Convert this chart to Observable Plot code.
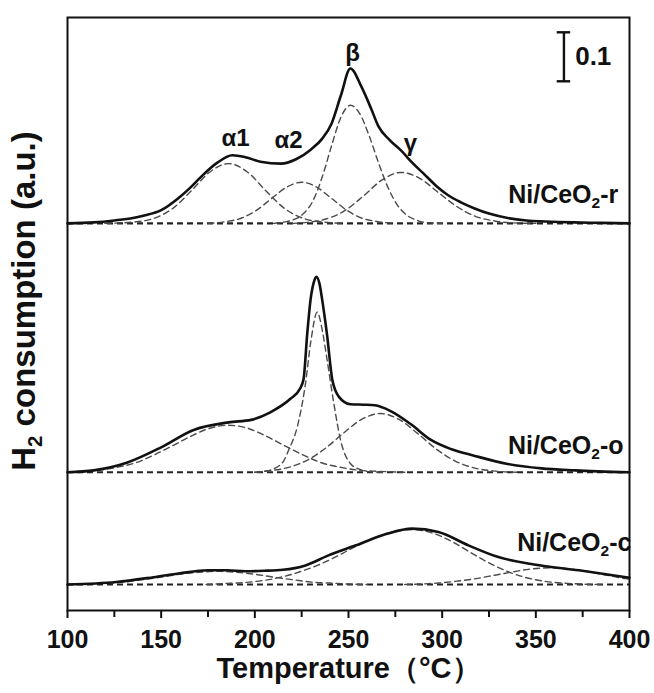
<!DOCTYPE html>
<html>
<head>
<meta charset="utf-8">
<script src="https://cdn.jsdelivr.net/npm/d3@7"></script>
<script src="https://cdn.jsdelivr.net/npm/@observablehq/plot@0.6"></script>
<style>
  html, body { margin: 0; padding: 0; background: #fff; }
</style>
</head>
<body>
<div id="chart"></div>
<script>
// ---------------- data ----------------
const majorTicks = [100, 150, 200, 250, 300, 350, 400];
const minorTicks = [125, 175, 225, 275, 325, 375];

// Ni/CeO2-r : total profile
const rT = [100,114,125,135,141,150,159,165,171,180,188,195,203,214,222,230,236,241,246,251,257,262,266,272,278,284,290,297,303,310,317,325,335,345,355,370,385,400];
const rV = [0,0.002,0.006,0.011,0.016,0.027,0.051,0.071,0.094,0.124,0.139,0.135,0.126,0.122,0.131,0.151,0.173,0.204,0.262,0.316,0.278,0.235,0.198,0.170,0.149,0.124,0.102,0.076,0.058,0.043,0.031,0.020,0.011,0.006,0.004,0.002,0.001,0];
// Ni/CeO2-r : fitted components
const rAlpha1 = [[120,0],[128,0.001],[136,0.003],[146,0.010],[156,0.030],[166,0.066],[176,0.105],[186,0.122],[196,0.105],[206,0.066],[216,0.030],[226,0.010],[236,0.003],[246,0]];
const rAlpha2 = [[175,0],[185,0.004],[193,0.011],[201,0.027],[209,0.051],[217,0.074],[225,0.084],[233,0.074],[241,0.051],[249,0.027],[257,0.011],[265,0.004],[275,0]];
const rBeta   = [[210,0],[216,0.003],[221,0.008],[226,0.020],[231,0.046],[236,0.095],[241,0.159],[246,0.217],[251,0.241],[256,0.224],[261,0.179],[266,0.124],[271,0.074],[276,0.038],[281,0.017],[286,0.007],[291,0.002],[300,0]];
const rGamma  = [[220,0],[228,0.002],[238,0.009],[248,0.026],[258,0.056],[268,0.089],[278,0.104],[288,0.092],[298,0.063],[308,0.034],[318,0.014],[328,0.005],[338,0.001],[350,0]];

// Ni/CeO2-o : total profile
const oT = [100,114,132,150,167,186,198,208,219,224,226,228,229.7,231.5,232.8,234.5,236,238.6,241.3,244.9,251,258,264,273,283,294,305,317,335,353,371,400];
const oV = [0,0.004,0.020,0.051,0.086,0.102,0.107,0.122,0.150,0.170,0.190,0.284,0.351,0.388,0.399,0.385,0.351,0.279,0.190,0.154,0.139,0.138,0.137,0.124,0.099,0.066,0.047,0.034,0.017,0.008,0.004,0];
// Ni/CeO2-o : fitted components
const oBroad = [[100,0.001],[116,0.004],[126,0.010],[136,0.019],[146,0.035],[156,0.054],[166,0.074],[176,0.090],[186,0.096],[196,0.090],[206,0.074],[216,0.054],[226,0.035],[236,0.019],[246,0.010],[256,0.004],[266,0.002],[280,0]];
const oSharp = [[200,0],[205,0.002],[210,0.007],[215.5,0.024],[218,0.045],[222.6,0.092],[227,0.180],[230,0.270],[233.3,0.327],[236,0.290],[238.6,0.229],[242.2,0.140],[245.8,0.065],[251,0.018],[256,0.006],[262,0.001],[270,0]];
const oHigh  = [[200,0],[207,0.003],[217,0.009],[227,0.023],[237,0.047],[247,0.079],[257,0.108],[267,0.120],[277,0.108],[287,0.079],[297,0.047],[307,0.023],[317,0.009],[327,0.003],[340,0]];

// Ni/CeO2-c : total profile
const cT = [100,126,146,160,175,185,195,205,215,227,239,254,270,284,298,314,330,349,373,400];
const cV = [0,0.005,0.015,0.023,0.029,0.029,0.027,0.028,0.030,0.039,0.059,0.080,0.103,0.114,0.107,0.080,0.056,0.041,0.029,0.014];
// Ni/CeO2-c : fitted components
const cLow  = [[100,0],[110,0.001],[120,0.003],[130,0.005],[140,0.010],[150,0.015],[160,0.021],[170,0.025],[180,0.027],[190,0.025],[200,0.021],[210,0.015],[220,0.010],[230,0.005],[240,0.003],[250,0.001],[260,0]];
const cMain = [[174,0],[184,0.002],[194,0.004],[204,0.008],[214,0.015],[224,0.026],[234,0.040],[244,0.058],[254,0.078],[264,0.095],[274,0.108],[284,0.112],[294,0.106],[304,0.090],[314,0.068],[324,0.046],[334,0.028],[344,0.015],[354,0.007],[364,0.003],[374,0.001],[385,0]];
const cHigh = [[280,0],[288,0.001],[298,0.003],[308,0.007],[318,0.012],[328,0.019],[338,0.026],[348,0.032],[358,0.034],[368,0.032],[378,0.026],[388,0.019],[398,0.012],[400,0.011]];

const sampleNames = ["Ni/CeO2-r", "Ni/CeO2-o", "Ni/CeO2-c"];
const peakNames = ["α1", "α2", "β", "γ"];
const peakAt = [189.7, 218, 252.2, 283.1];
const scaleBarValue = 0.1;

// ---------------- layout ----------------
const W = 654, H = 693;
const mL = 67, mR = 25, mT = 17, mB = 83;
const pxPerUnit = 490;                      // 0.1 a.u. ≈ 49 px
const yMax = (H - mT - mB) / pxPerUnit;
const offR = 0.790, offO = 0.282, offC = 0.053;  // vertical stacking offsets
const FONT = "'Liberation Sans', Arial, Helvetica, sans-serif";

const rows = (T, V, off) => T.map((t, i) => ({T: t, y: V[i] + off}));
const comp = (P, off) => P.map(([t, v]) => ({T: t, y: v + off}));

const totalStyle = {x: "T", y: "y", curve: "monotone-x", stroke: "#111", strokeWidth: 2.6};
const compStyle  = {x: "T", y: "y", curve: "monotone-x", stroke: "#4a4a4a", strokeWidth: 1.4, strokeDasharray: "6,4"};

const comps = [
  ...[rAlpha1, rAlpha2, rBeta, rGamma].map(p => comp(p, offR)),
  ...[oBroad, oSharp, oHigh].map(p => comp(p, offO)),
  ...[cLow, cMain, cHigh].map(p => comp(p, offC))
];

const chart = Plot.plot({
  width: W, height: H,
  marginLeft: mL, marginRight: mR, marginTop: mT, marginBottom: mB,
  x: {domain: [100, 400]},
  y: {domain: [0, yMax], axis: null},
  style: {fontFamily: FONT, fontWeight: "bold", color: "#111", background: "#fff", overflow: "visible"},
  marks: [
    Plot.ruleY([offR, offO, offC], {stroke: "#222", strokeWidth: 2.1, strokeDasharray: "6,4"}),
    ...comps.map(d => Plot.line(d, compStyle)),
    Plot.line(rows(rT, rV, offR), totalStyle),
    Plot.line(rows(oT, oV, offO), totalStyle),
    Plot.line(rows(cT, cV, offC), totalStyle),
    Plot.text(peakNames, {x: (d, i) => peakAt[i], y: [0.963, 0.959, 1.137, 0.953], text: d => d, fontSize: 24, fontWeight: "bold", fill: "#111"}),
    Plot.text(sampleNames, {x: [394, 396.8, 401], y: [offR + 0.057, offO + 0.053, offC + 0.084], text: d => d, textAnchor: "end", fontSize: 25, fontWeight: "bold", fill: "#111"}),
    Plot.ruleX([365], {y1: 1.18 - scaleBarValue, y2: 1.18, stroke: "#111", strokeWidth: 2.4}),
    Plot.ruleY([1.18 - scaleBarValue, 1.18], {x1: 361.4, x2: 368.6, stroke: "#111", strokeWidth: 2.4}),
    Plot.text([String(scaleBarValue)], {x: 371, y: 1.13, textAnchor: "start", fontSize: 26, fontWeight: "bold", fill: "#111"}),
    Plot.frame({stroke: "#111", strokeWidth: 2}),
    Plot.axisX({ticks: majorTicks, tickSize: 8, tickPadding: 12, tickFormat: d => String(d), fontSize: 25, fontWeight: "bold", strokeWidth: 2, label: null}),
    Plot.axisX({ticks: minorTicks, tickSize: 7, tickFormat: () => "", strokeWidth: 2, label: null}),
    Plot.text(["Temperature（°C）"], {frameAnchor: "bottom", dy: 67, fontSize: 29, fontWeight: "bold", fill: "#111"}),
    Plot.text(["H2 consumption (a.u.)"], {frameAnchor: "left", textAnchor: "middle", dx: -43, dy: -13, rotate: -90, fontSize: 33, fontWeight: "bold", fill: "#111"})
  ]
});

// subscript "2" in CeO2 and H2 (kept as real text)
function subscriptTwo(el, key) {
  const s = el.textContent;
  const k = s.indexOf(key);
  if (k < 0) return;
  const i = k + key.length - 1;
  const ns = "http://www.w3.org/2000/svg";
  el.textContent = "";
  const a = document.createElementNS(ns, "tspan"); a.textContent = s.slice(0, i);
  const b = document.createElementNS(ns, "tspan"); b.textContent = "2";
  b.setAttribute("dy", "0.32em"); b.setAttribute("font-size", "0.62em");
  const c = document.createElementNS(ns, "tspan"); c.textContent = s.slice(i + 1);
  c.setAttribute("dy", "-0.2em");
  el.append(a, b, c);
}
chart.querySelectorAll("text").forEach(t => {
  if (t.textContent.includes("CeO2")) subscriptTwo(t, "CeO2");
  else if (t.textContent.startsWith("H2 ")) subscriptTwo(t, "H2");
});

document.getElementById("chart").append(chart);
</script>
</body>
</html>
